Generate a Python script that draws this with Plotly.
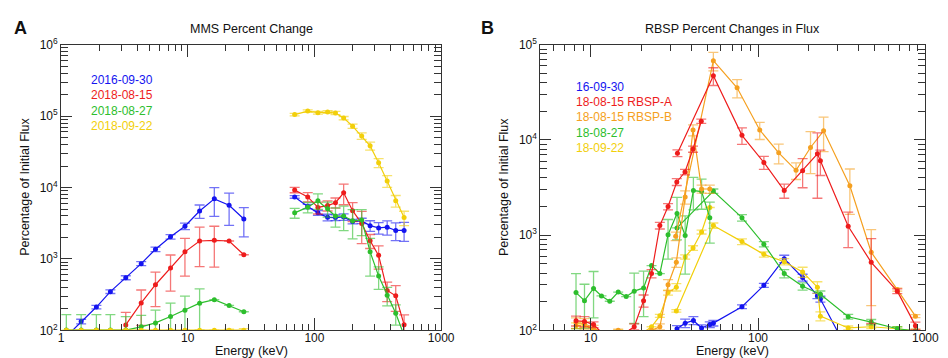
import math
import plotly.graph_objects as go

W, H = 948, 358

# ---------------- Panel A : MMS percent change ----------------
mms_E_low = [1.1, 1.44, 1.9, 2.45, 3.24, 4.29, 5.56, 7.31, 9.5, 12.4, 16.2, 21.2, 27.7]
mms_E_high = [69.8, 88.5, 106.5, 127, 146.5, 170, 200, 236, 275, 321, 375, 438, 510]

mms_2016_09_30_low = [82, 133, 212, 348, 546, 859, 1365, 2040, 2866, 4695, 6940, 5655, 3631]
mms_2016_09_30_low_err = [8, 10, 12, 20, 35, 55, 100, 150, 300, 1000, 3000, 2700, 1600]
mms_2016_09_30_high = [7380, 5420, 4415, 3820, 3790, 3865, 3340, 3412, 2925, 2720, 2780, 2505, 2505]
mms_2016_09_30_high_err = [300, 400, 350, 400, 350, 400, 250, 300, 500, 500, 630, 700, 740]

mms_2018_08_15_low = [None, None, None, None, 119, 242, 435, 745, 1256, 1782, 1820, 1782, 1145]
mms_2018_08_15_low_err = [0, 0, 0, 0, 60, 125, 220, 390, 680, 1000, 1050, 0, 0]
mms_2018_08_15_high = [9250, 7380, 5260, 5590, 6130, 8440, 4745, 3140, 1800, 1122, 362, 304, 120]
mms_2018_08_15_high_err = [800, 1100, 1000, 900, 1000, 2700, 1400, 1500, 400, 400, 110, 120, 45]

mms_2018_08_27_low = [101, 101, 101, 101, 101, 112, 127, 156, 191, 240, 269, 223, 182]
mms_2018_08_27_low_err = [65, 65, 65, 65, 55, 50, 65, 85, 110, 140, 0, 0, 0]
mms_2018_08_27_high = [4415, 5310, 6530, 5050, 3985, 3985, 3412, 3517, 1256, 575, 310, 173, 85]
mms_2018_08_27_high_err = [700, 900, 1600, 1200, 1200, 1500, 1500, 1400, 680, 200, 90, 55, 0]

mms_2018_09_22_low = [100.5, 100.5, 100.5, 100.5, 100.5, 100.5, 100.5, 100.5, 100.5, 100.5, 100.5, 100.5, 100.5]
mms_2018_09_22_low_err = [0, 0, 0, 0, 0, 0, 0, 0, 0, 0, 0, 3, 5]
mms_2018_09_22_high = [105000, 117500, 111700, 114000, 110700, 93800, 72400, 52700, 38300, 22200, 12350, 6530, 3790]
mms_2018_09_22_high_err = [4000, 5000, 5000, 5000, 6000, 5000, 5000, 5500, 5000, 3200, 2300, 1200, 860]

mms_labels = ["2016-09-30", "2018-08-15", "2018-08-27", "2018-09-22"]

# ---------------- Panel B : RBSP percent changes ----------------
rb_1609_E = [32.8, 36.7, 41.1, 46.0, 51.5, 54.1, 80.2, 108.4, 143.5, 184.8, 226.5, 236, 346]
rb_1609_V = [104, 119, 127, 106, 115, 119, 177, 297, 565, 358, 230, 213, 60]
rb_1609_err = [8, 12, 12, 8, 8, 8, 8, 15, 50, 30, 15, 15, 0]

# 18-08-15 RBSP-A (low-energy channels, then high-energy channels)
rbA_lo_E = [8.17, 9.18, 10.4, 12.0, 13.5, 15.5, 18.2, 20.7, 23.1, 25.9, 29.0, 32.7, 36.6, 40.9, 45.8]
rbA_lo_V = [126, 124, 115, 90, 85, 90, 109, 205, 395, 1260, 1995, 3620, 4600, 8020, 15700]
rbA_lo_err = [15, 15, 8, 0, 0, 0, 8, 30, 40, 100, 150, 300, 300, 600, 800]
rbA_hi_E = [33.0, 54.1, 80.2, 108.4, 143.5, 184.8, 226.5, 236, 346, 475, 680, 873]
rbA_hi_V = [7260, 47300, 11170, 5800, 2940, 4745, 7140, 6030, 1240, 518, 258, 112]
rbA_hi_err = [600, 10000, 2200, 900, 500, 1600, 4700, 1800, 500, 400, 15, 10]

# 18-08-15 RBSP-B
rbB_lo_E = [8.17, 9.18, 10.4, 12.0, 14.6, 18.2, 20.7, 23.1, 25.9, 29.0, 32.5, 36.7, 40.9, 46.0, 51.5]
rbB_lo_V = [120, 118, 105, 95, 100, 90, 95, 100, 109, 301, 518, 2520, 12700, 3055, 3050]
rbB_lo_err = [15, 15, 8, 0, 3, 0, 0, 0, 8, 40, 60, 400, 1700, 300, 300]
rbB_hi_E = [32.2, 54.1, 75.0, 102.4, 133, 168.8, 206, 246.6, 354, 475, 680, 873]
rbB_hi_V = [975, 68000, 35300, 12700, 7310, 4790, 8330, 12450, 3300, 662, 268, 141]
rbB_hi_err = [100, 15000, 7700, 2600, 1700, 950, 3900, 4900, 1650, 480, 10, 5]

# 18-08-27
rb27_lo_E = [8.17, 9.18, 10.4, 11.6, 13.0, 14.6, 16.3, 18.2, 20.7, 23.1, 25.9, 29.0, 32.8, 36.7, 41.1, 46.0, 51.5]
rb27_lo_V = [249, 205, 275, 230, 202, 252, 226, 258, 279, 479, 395, 1010, 1690, 990, 2940, 2870, 1525]
rb27_lo_err = [145, 100, 140, 0, 0, 0, 0, 140, 140, 0, 0, 450, 800, 600, 1100, 1000, 700]
rb27_hi_E = [32.8, 54.1, 80.2, 108.4, 143.5, 184.8, 236, 346, 475, 680, 873]
rb27_hi_V = [1190, 2900, 1525, 804, 395, 290, 239, 139, 122, 104, 99]
rb27_hi_err = [0, 150, 120, 50, 40, 25, 20, 8, 8, 5, 0]

# 18-09-22
rb22_lo_E = [8.17, 9.18, 10.4, 12.0, 14.6, 18.2, 20.7, 23.1, 25.9, 29.0, 32.5, 36.7, 40.9, 46.0, 51.5]
rb22_lo_V = [112, 115, 100, 95, 98, 92, 95, 109, 142, 249, 284, 590, 733, 1077, 1950]
rb22_lo_err = [8, 8, 0, 0, 3, 0, 0, 0, 5, 15, 25, 30, 40, 50, 0]
rb22_hi_E = [32.5, 54.1, 80.2, 108.4, 143.5, 184.8, 226.5, 236, 346, 475, 680, 873]
rb22_hi_V = [160, 1260, 855, 628, 526, 410, 284, 141, 106, 109, 104, 98]
rb22_hi_err = [5, 80, 60, 40, 40, 50, 40, 15, 5, 5, 5, 5]

rbsp_labels = ["16-09-30", "18-08-15 RBSP-A", "18-08-15 RBSP-B", "18-08-27", "18-09-22"]

# ---------------- styling ----------------
BLUE = "#1414F0"
RED = "#EE1C1C"
GREEN = "#2DBE2D"
GOLD = "#F2CF0A"
ORANGE = "#F5A020"
FRAME = "#333333"
FONT = "Liberation Sans, Arial, sans-serif"


def rgba(hexc, a):
    h = hexc.lstrip("#")
    return "rgba(%d,%d,%d,%.2f)" % (int(h[0:2], 16), int(h[2:4], 16), int(h[4:6], 16), a)


fig = go.Figure()


def add(x, y, err, color, xa, ya):
    fig.add_trace(go.Scatter(
        x=x, y=y, mode="lines+markers", xaxis=xa, yaxis=ya, showlegend=False,
        line=dict(color=color, width=1.2),
        marker=dict(size=5, color=color),
        error_y=dict(type="data", array=err, color=rgba(color, 0.6), thickness=1.3, width=5),
    ))


# Panel A traces
add(mms_E_low, mms_2016_09_30_low, mms_2016_09_30_low_err, BLUE, "x", "y")
add(mms_E_high, mms_2016_09_30_high, mms_2016_09_30_high_err, BLUE, "x", "y")
add(mms_E_low, mms_2018_08_15_low, mms_2018_08_15_low_err, RED, "x", "y")
add(mms_E_high, mms_2018_08_15_high, mms_2018_08_15_high_err, RED, "x", "y")
add(mms_E_low, mms_2018_08_27_low, mms_2018_08_27_low_err, GREEN, "x", "y")
add(mms_E_high, mms_2018_08_27_high, mms_2018_08_27_high_err, GREEN, "x", "y")
add(mms_E_low, mms_2018_09_22_low, mms_2018_09_22_low_err, GOLD, "x", "y")
add(mms_E_high, mms_2018_09_22_high, mms_2018_09_22_high_err, GOLD, "x", "y")

# Panel B traces
add(rb_1609_E, rb_1609_V, rb_1609_err, BLUE, "x2", "y2")
for loE, loV, loErr, hiE, hiV, hiErr, col in [
    (rb22_lo_E, rb22_lo_V, rb22_lo_err, rb22_hi_E, rb22_hi_V, rb22_hi_err, GOLD),
    (rb27_lo_E, rb27_lo_V, rb27_lo_err, rb27_hi_E, rb27_hi_V, rb27_hi_err, GREEN),
    (rbB_lo_E, rbB_lo_V, rbB_lo_err, rbB_hi_E, rbB_hi_V, rbB_hi_err, ORANGE),
    (rbA_lo_E, rbA_lo_V, rbA_lo_err, rbA_hi_E, rbA_hi_V, rbA_hi_err, RED),
]:
    add(loE, loV, loErr, col, "x2", "y2")
    add(hiE, hiV, hiErr, col, "x2", "y2")

# ---------------- axes ----------------
xA_ticks = [1, 10, 100, 1000]
xA_text = ["1", "10", "100", "1000"]
xB_ticks = [10, 100, 1000]
xB_text = ["10", "100", "1000"]
yA_ticks = [1e2, 1e3, 1e4, 1e5, 1e6]
yA_text = ["10<sup>2</sup>", "10<sup>3</sup>", "10<sup>4</sup>", "10<sup>5</sup>", "10<sup>6</sup>"]
yB_ticks = [1e2, 1e3, 1e4, 1e5]
yB_text = ["10<sup>2</sup>", "10<sup>3</sup>", "10<sup>4</sup>", "10<sup>5</sup>"]

minor_xA = [m * 10 ** k for k in range(0, 3) for m in range(2, 10)]
minor_xB = [m for m in range(5, 10)] + [m * 10 ** k for k in range(1, 3) for m in range(2, 10)]
minor_yA = [m * 10 ** k for k in range(2, 6) for m in range(2, 10)]
minor_yB = [m * 10 ** k for k in range(2, 5) for m in range(2, 10)]


def xaxis(domain, rng, tv, tt, mv, anchor):
    return dict(domain=domain, anchor=anchor, type="log", range=rng, tickvals=tv, ticktext=tt,
                ticks="inside", ticklen=12, tickwidth=1, tickcolor=FRAME,
                minor=dict(tickvals=mv, ticks="inside", ticklen=6, tickcolor=FRAME, showgrid=False),
                mirror="allticks", showline=True, linecolor=FRAME, linewidth=1,
                showgrid=False, zeroline=False, ticklabelstandoff=-4,
                tickfont=dict(size=12, color="#111", family=FONT))


def yaxis(anchor, rng, tv, tt, mv):
    return dict(domain=[30 / H, 329 / H], anchor=anchor, type="log", range=rng,
                tickvals=tv, ticktext=tt,
                ticks="inside", ticklen=11, tickwidth=1, tickcolor=FRAME,
                minor=dict(tickvals=mv, ticks="inside", ticklen=7, tickcolor=FRAME, showgrid=False),
                mirror="allticks", showline=True, linecolor=FRAME, linewidth=1,
                showgrid=False, zeroline=False,
                tickfont=dict(size=12, color="#111", family=FONT))


fig.update_layout(
    width=W, height=H, margin=dict(l=0, r=0, t=0, b=0),
    paper_bgcolor="white", plot_bgcolor="white",
    font=dict(family=FONT, size=12, color="#111"),
    xaxis=xaxis([51 / W, 438 / W], [0, 3], xA_ticks, xA_text, minor_xA, "y"),
    yaxis=yaxis("x", [2, 6], yA_ticks, yA_text, minor_yA),
    xaxis2=xaxis([539 / W, 931 / W], [math.log10(5), 3], xB_ticks, xB_text, minor_xB, "y2"),
    yaxis2=yaxis("x2", [2, 5], yB_ticks, yB_text, minor_yB),
)


# ---------------- text ----------------
def ann(text, px, py, size=12, color="#111", xanchor="center", angle=0, bold=False):
    fig.add_annotation(text=("<b>%s</b>" % text) if bold else text,
                       x=px / W, y=1 - py / H, xref="paper", yref="paper",
                       xanchor=xanchor, yanchor="middle", showarrow=False, textangle=angle,
                       font=dict(size=size, color=color, family=FONT))


ann("A", 10, 11, size=18, bold=True)
ann("B", 485, 11, size=18, bold=True)
ann("MMS Percent Change", 245, 13, size=12.5)
ann("RBSP Percent Changes in Flux", 735, 13, size=12.5)
ann("Energy (keV)", 245, 350, size=12.5)
ann("Energy (keV)", 735, 350, size=12.5)
ann("Percentage of Initial Flux", 14, 178, size=12.5, angle=-90)
ann("Percentage of Initial Flux", 502, 178, size=12.5, angle=-90)

for i, (lab, col) in enumerate(zip(mms_labels, [BLUE, RED, GREEN, GOLD])):
    ann(lab, 79, 66 + 16 * i, color=col, xanchor="left")
for i, (lab, col) in enumerate(zip(rbsp_labels, [BLUE, RED, ORANGE, GREEN, GOLD])):
    ann(lab, 573, 73 + 16 * i, color=col, xanchor="left")

fig.write_html("out.html")
